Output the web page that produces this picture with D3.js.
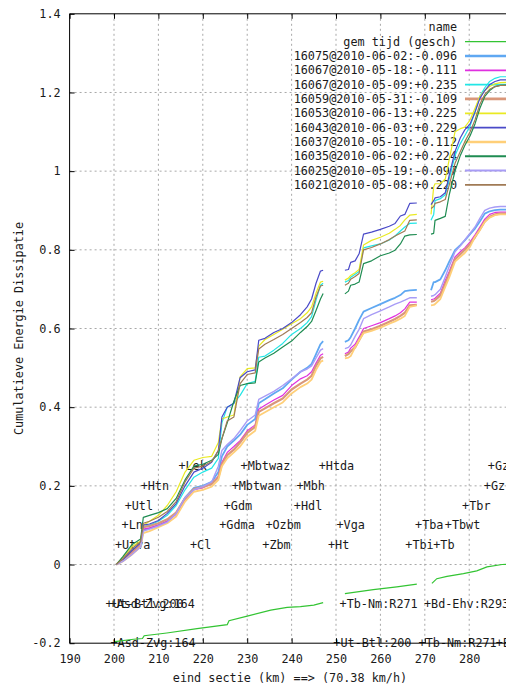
<!DOCTYPE html>
<html>
<head>
<meta charset="utf-8">
<script src="https://cdn.jsdelivr.net/npm/d3@7"></script>
<style>
  html, body { margin: 0; padding: 0; background: #fff; overflow: hidden; }
  svg { display: block; }
  text { font-family: "DejaVu Sans Mono", "Liberation Mono", monospace; font-size: 11.8px; fill: #1a1a1a; }
</style>
</head>
<body>
<svg id="chart" width="506" height="687"></svg>
<script>
// ---- kilometre grids of the three measured sections ----
const km1 = [200.5, 202, 204, 206, 206.6, 208, 210, 212, 214, 216, 218, 220, 222, 223.5, 224.3, 225.5, 227, 228.4, 230, 231.8, 232.6, 234, 236, 238, 240, 242, 243.5, 244.5, 245.5, 246.5, 247.1];
const km2 = [252.0, 252.8, 253.3, 254.3, 255.2, 256.2, 258, 260, 262, 263.3, 264.5, 265.5, 266.6, 268.2];
const km3 = [271.4, 272.0, 272.3, 273.5, 274.6, 275.5, 276.8, 278, 279, 280.2, 281.3, 282.4, 283.5, 284.6, 285.8, 287, 289.5];

// ---- cumulative energy dissipation per run (section 1, 2, 3) ----
const v16075a = [
  [0, 0.01, 0.03, 0.048, 0.088, 0.092, 0.1, 0.11, 0.13, 0.17, 0.195, 0.2, 0.21, 0.235, 0.275, 0.3, 0.315, 0.33, 0.355, 0.37, 0.41, 0.42, 0.435, 0.448, 0.47, 0.49, 0.5, 0.51, 0.535, 0.56, 0.568],
  [0.566, 0.57, 0.578, 0.6, 0.622, 0.643, 0.652, 0.662, 0.672, 0.678, 0.685, 0.695, 0.697, 0.698],
  [0.697, 0.718, 0.718, 0.725, 0.748, 0.77, 0.799, 0.812, 0.824, 0.84, 0.854, 0.872, 0.892, 0.898, 0.901, 0.902, 0.902]
];
const v16067b = [
  [0, 0.01, 0.028, 0.05, 0.09, 0.093, 0.1, 0.11, 0.128, 0.165, 0.19, 0.195, 0.205, 0.225, 0.26, 0.285, 0.3, 0.315, 0.34, 0.355, 0.395, 0.405, 0.418, 0.43, 0.455, 0.472, 0.48, 0.49, 0.512, 0.532, 0.536],
  [0.536, 0.54, 0.55, 0.56, 0.578, 0.6, 0.607, 0.615, 0.625, 0.632, 0.64, 0.65, 0.667, 0.667],
  [0.673, 0.675, 0.677, 0.69, 0.722, 0.745, 0.782, 0.795, 0.805, 0.82, 0.838, 0.858, 0.878, 0.89, 0.895, 0.896, 0.896]
];
const v16067c = [
  [0, 0.012, 0.035, 0.055, 0.095, 0.1, 0.11, 0.125, 0.15, 0.19, 0.222, 0.235, 0.245, 0.27, 0.36, 0.4, 0.41, 0.43, 0.46, 0.466, 0.527, 0.53, 0.545, 0.562, 0.585, 0.6, 0.615, 0.63, 0.672, 0.71, 0.715],
  [0.718, 0.722, 0.73, 0.738, 0.745, 0.805, 0.81, 0.815, 0.825, 0.835, 0.848, 0.858, 0.867, 0.868],
  [0.875, 0.89, 0.925, 0.93, 0.94, 0.98, 1.04, 1.07, 1.09, 1.115, 1.15, 1.19, 1.212, 1.228, 1.236, 1.24, 1.24]
];
const v16059 = [
  [0, 0.012, 0.032, 0.052, 0.095, 0.098, 0.105, 0.115, 0.132, 0.168, 0.192, 0.197, 0.205, 0.222, 0.255, 0.278, 0.292, 0.31, 0.335, 0.35, 0.388, 0.397, 0.41, 0.422, 0.445, 0.46, 0.47, 0.48, 0.505, 0.524, 0.528],
  [0.53, 0.535, 0.542, 0.552, 0.57, 0.592, 0.598, 0.607, 0.617, 0.624, 0.632, 0.64, 0.659, 0.66],
  [0.668, 0.67, 0.672, 0.684, 0.714, 0.738, 0.776, 0.789, 0.8, 0.815, 0.832, 0.852, 0.872, 0.884, 0.89, 0.892, 0.892]
];
const v16053 = [
  [0, 0.018, 0.045, 0.06, 0.1, 0.11, 0.125, 0.15, 0.185, 0.235, 0.265, 0.272, 0.275, 0.31, 0.37, 0.375, 0.38, 0.477, 0.498, 0.5, 0.555, 0.572, 0.585, 0.598, 0.612, 0.625, 0.64, 0.655, 0.69, 0.718, 0.72],
  [0.723, 0.728, 0.735, 0.742, 0.75, 0.812, 0.824, 0.832, 0.842, 0.852, 0.862, 0.876, 0.888, 0.89],
  [0.89, 0.96, 0.968, 0.968, 0.98, 1.03, 1.1, 1.108, 1.112, 1.13, 1.16, 1.19, 1.205, 1.215, 1.222, 1.225, 1.226]
];
const v16043 = [
  [0, 0.012, 0.035, 0.055, 0.1, 0.103, 0.112, 0.13, 0.155, 0.2, 0.235, 0.245, 0.26, 0.29, 0.375, 0.4, 0.41, 0.475, 0.49, 0.495, 0.57, 0.575, 0.59, 0.6, 0.615, 0.635, 0.655, 0.675, 0.715, 0.746, 0.748],
  [0.748, 0.75, 0.768, 0.772, 0.79, 0.84, 0.845, 0.852, 0.86, 0.867, 0.886, 0.89, 0.918, 0.919],
  [0.915, 0.925, 0.932, 0.935, 0.945, 0.99, 1.05, 1.085, 1.105, 1.12, 1.15, 1.185, 1.205, 1.22, 1.228, 1.232, 1.232]
];
const v16037 = [
  [0, 0.008, 0.025, 0.045, 0.08, 0.085, 0.095, 0.105, 0.122, 0.16, 0.185, 0.19, 0.198, 0.215, 0.25, 0.27, 0.285, 0.3, 0.325, 0.34, 0.378, 0.387, 0.4, 0.412, 0.435, 0.451, 0.46, 0.47, 0.495, 0.515, 0.519],
  [0.524, 0.526, 0.53, 0.552, 0.57, 0.588, 0.594, 0.602, 0.612, 0.618, 0.625, 0.632, 0.655, 0.659],
  [0.659, 0.66, 0.662, 0.675, 0.706, 0.73, 0.77, 0.782, 0.792, 0.808, 0.833, 0.85, 0.871, 0.882, 0.888, 0.89, 0.89]
];
const v16035 = [
  [0, 0.02, 0.05, 0.065, 0.12, 0.125, 0.132, 0.142, 0.168, 0.215, 0.25, 0.255, 0.265, 0.28, 0.32, 0.36, 0.415, 0.455, 0.46, 0.462, 0.515, 0.525, 0.537, 0.553, 0.568, 0.59, 0.605, 0.618, 0.646, 0.675, 0.689],
  [0.688, 0.695, 0.71, 0.713, 0.718, 0.765, 0.772, 0.785, 0.792, 0.799, 0.815, 0.835, 0.838, 0.839],
  [0.84, 0.842, 0.875, 0.88, 0.885, 0.94, 1.0, 1.04, 1.065, 1.09, 1.12, 1.16, 1.19, 1.205, 1.215, 1.218, 1.219]
];
const v16025 = [
  [0, 0.008, 0.025, 0.045, 0.085, 0.09, 0.098, 0.108, 0.13, 0.17, 0.19, 0.198, 0.21, 0.25, 0.29, 0.305, 0.32, 0.34, 0.365, 0.38, 0.42, 0.428, 0.44, 0.455, 0.472, 0.49, 0.497, 0.505, 0.525, 0.545, 0.549],
  [0.549, 0.552, 0.558, 0.58, 0.598, 0.625, 0.635, 0.645, 0.655, 0.662, 0.667, 0.672, 0.678, 0.678],
  [0.682, 0.684, 0.686, 0.7, 0.731, 0.758, 0.795, 0.81, 0.825, 0.842, 0.858, 0.88, 0.9, 0.906, 0.909, 0.91, 0.91]
];
const v16021 = [
  [0, 0.015, 0.04, 0.058, 0.105, 0.11, 0.12, 0.135, 0.16, 0.21, 0.245, 0.25, 0.262, 0.29, 0.32, 0.365, 0.375, 0.46, 0.483, 0.487, 0.548, 0.56, 0.572, 0.585, 0.6, 0.615, 0.628, 0.64, 0.68, 0.708, 0.71],
  [0.71, 0.715, 0.725, 0.732, 0.74, 0.8, 0.806, 0.815, 0.826, 0.835, 0.842, 0.848, 0.875, 0.876],
  [0.905, 0.91, 0.918, 0.922, 0.928, 0.965, 1.02, 1.05, 1.075, 1.1, 1.13, 1.17, 1.195, 1.208, 1.215, 1.218, 1.218]
];

// ---- average scheduled time line (gem tijd), its own km points per section ----
const gemKm = [
  [200.2, 204.4, 206.4, 206.8, 211.9, 218.7, 225.5, 225.9, 230, 235.3, 239, 242, 245, 247.1],
  [252, 258.4, 263.7, 268.2],
  [271.6, 272.7, 275, 278.7, 281.7, 284, 287.4, 289.5]
];
const gemVal = [
  [-0.196, -0.19, -0.188, -0.181, -0.174, -0.163, -0.153, -0.143, -0.131, -0.116, -0.109, -0.107, -0.103, -0.097],
  [-0.074, -0.064, -0.057, -0.05],
  [-0.048, -0.036, -0.03, -0.023, -0.016, -0.006, 0.0, 0.001]
];

// ---- legend / series styling ----
const seriesNames = [
  "16075@2010-06-02:-0.096", "16067@2010-05-18:-0.111", "16067@2010-05-09:+0.235",
  "16059@2010-05-31:-0.109", "16053@2010-06-13:+0.225", "16043@2010-06-03:+0.229",
  "16037@2010-05-10:-0.112", "16035@2010-06-02:+0.224", "16025@2010-05-19:-0.097",
  "16021@2010-05-08:+0.220"
];
const seriesValues = [v16075a, v16067b, v16067c, v16059, v16053, v16043, v16037, v16035, v16025, v16021];
const seriesColors = ["#5fa8f2", "#e030e0", "#22e6e6", "#d9977a", "#eaea22", "#4a4ac8", "#ffcf78", "#1f8c52", "#a89cf6", "#a07a55"];
const seriesWidths = [1.8, 1.2, 1.2, 2.2, 1.2, 1.2, 1.8, 1.2, 1.4, 1.2];
const gemName = "gem tijd (gesch)";
const gemColor = "#33c433";

// ---- station markers ----
const stationNames = ["Utva", "Ln", "Utl", "Htn", "Lek", "Cl", "Gdma", "Gdm", "Mbtwan", "Mbtwaz", "Zbm", "Ozbm", "Hdl", "Mbh", "Htda", "Ht", "Vga", "Tbi", "Tba", "Tb", "Tbwt", "Tbr", "Gz", "Gza"];
const stationKm = [201.0, 202.5, 203.2, 206.8, 215.3, 217.9, 224.5, 225.5, 227.3, 229.3, 234.2, 234.9, 241.3, 241.9, 246.9, 249.0, 250.9, 266.4, 268.6, 272.7, 275.3, 279.2, 284.1, 285.0];
const stationLevel = [0.05, 0.10, 0.15, 0.20, 0.25, 0.05, 0.10, 0.15, 0.20, 0.25, 0.05, 0.10, 0.15, 0.20, 0.25, 0.05, 0.10, 0.05, 0.10, 0.05, 0.10, 0.15, 0.20, 0.25];

// ---- route section markers ----
const routeNames = ["Ut-Btl:200", "Asd-Zvg:164", "Asd-Zvg:164", "Tb-Nm:R271", "Ut-Btl:200", "Bd-Ehv:R293", "Tb-Nm:R271", "Bd-Ehv:R293"];
const routeKm = [198.9, 199.8, 200.0, 251.6, 250.2, 270.6, 269.4, 286.8];
const routeLevel = [-0.1, -0.1, -0.2, -0.1, -0.2, -0.1, -0.2, -0.2];

// ---- axes ----
const xTicks = [190, 200, 210, 220, 230, 240, 250, 260, 270, 280];
const yTicks = [-0.2, 0, 0.2, 0.4, 0.6, 0.8, 1, 1.2, 1.4];
const yTickLabels = ["-0.2", "0", "0.2", "0.4", "0.6", "0.8", "1", "1.2", "1.4"];
const xTitle = "eind sectie (km) ==> (70.38 km/h)";
const yTitle = "Cumulatieve Energie Dissipatie";

const svg = d3.select("#chart");
const pL = 69.6, pR = 511.4, pT = 13.8, pB = 643.2;
const x = d3.scaleLinear().domain([190, 289.5]).range([pL, pR]);
const y = d3.scaleLinear().domain([-0.2, 1.4]).range([pB, pT]);

// grid
const grid = svg.append("g").attr("class", "grid");
grid.selectAll("line.gx").data(xTicks.slice(1)).join("line")
  .attr("x1", d => x(d)).attr("x2", d => x(d)).attr("y1", pT).attr("y2", pB)
  .attr("stroke", "#a8a8a8").attr("stroke-width", 1).attr("stroke-dasharray", "2,3");
grid.selectAll("line.gy").data(yTicks.slice(1, -1)).join("line")
  .attr("x1", pL).attr("x2", pR).attr("y1", d => y(d)).attr("y2", d => y(d))
  .attr("stroke", "#a8a8a8").attr("stroke-width", 1).attr("stroke-dasharray", "2,3");

// station labels
const plusOffset = 3.55;
svg.append("g").selectAll("text").data(stationNames).join("text")
  .attr("x", (d, i) => x(stationKm[i]) - plusOffset)
  .attr("y", (d, i) => y(stationLevel[i]))
  .attr("dy", "0.35em")
  .text(d => "+" + d);

// route labels
svg.append("g").selectAll("text").data(routeNames).join("text")
  .attr("x", (d, i) => x(routeKm[i]) - plusOffset)
  .attr("y", (d, i) => y(routeLevel[i]))
  .attr("dy", "0.35em")
  .text(d => "+" + d);

// legend text
const legX = 457, legY0 = 27.3, legStep = 14.33, sampleX1 = 465, sampleX2 = 512;
const legend = svg.append("g");
legend.append("text").attr("x", legX).attr("y", legY0).attr("dy", "0.35em")
  .attr("text-anchor", "end").text("name");
const legendLabels = [gemName].concat(seriesNames);
legend.selectAll("text.item").data(legendLabels).join("text")
  .attr("class", "item")
  .attr("x", legX).attr("y", (d, i) => legY0 + legStep * (i + 1)).attr("dy", "0.35em")
  .attr("text-anchor", "end").text(d => d);

// curves
const line = d3.line().x(d => x(d[0])).y(d => y(d[1]));
const plot = svg.append("g");
const kms = [km1, km2, km3];

// average time line
gemKm.forEach((kArr, s) => {
  plot.append("path")
    .attr("d", line(kArr.map((k, i) => [k, gemVal[s][i]])))
    .attr("fill", "none").attr("stroke", gemColor).attr("stroke-width", 1.2);
});
legend.append("line").attr("x1", sampleX1).attr("x2", sampleX2)
  .attr("y1", legY0 + legStep).attr("y2", legY0 + legStep)
  .attr("stroke", gemColor).attr("stroke-width", 1.4);

seriesValues.forEach((vals, n) => {
  vals.forEach((segVals, s) => {
    plot.append("path")
      .attr("d", line(kms[s].map((k, i) => [k, segVals[i]])))
      .attr("fill", "none")
      .attr("stroke", seriesColors[n])
      .attr("stroke-width", seriesWidths[n])
      .attr("stroke-linejoin", "round");
  });
  legend.append("line").attr("x1", sampleX1).attr("x2", sampleX2)
    .attr("y1", legY0 + legStep * (n + 2)).attr("y2", legY0 + legStep * (n + 2))
    .attr("stroke", seriesColors[n]).attr("stroke-width", seriesWidths[n] + 0.6);
});

// axes
const axB = svg.append("g").attr("transform", `translate(0,${pB})`)
  .call(d3.axisBottom(x).tickValues(xTicks).tickFormat(d3.format("d")).tickSize(-5).tickPadding(11));
const axT = svg.append("g").attr("transform", `translate(0,${pT})`)
  .call(d3.axisTop(x).tickValues(xTicks).tickFormat("").tickSize(-5));
const axL = svg.append("g").attr("transform", `translate(${pL},0)`)
  .call(d3.axisLeft(y).tickValues(yTicks).tickFormat((d, i) => yTickLabels[i]).tickSize(-5).tickPadding(9));
[axB, axT, axL].forEach(g => {
  g.select(".domain").attr("stroke", "#000").attr("stroke-width", 1);
  g.selectAll(".tick line").attr("stroke", "#000");
  g.selectAll("text").attr("font-family", "DejaVu Sans Mono").attr("font-size", "11.8px").attr("fill", "#1a1a1a");
});
axB.select(".domain").attr("d", `M${pL},0H${pR + 2}`);
axT.select(".domain").attr("d", `M${pL},0H${pR + 2}`);
axL.select(".domain").attr("d", `M0,${pT}V${pB}`);

// titles
svg.append("text").attr("x", 290).attr("y", 678).attr("dy", "0.35em")
  .attr("text-anchor", "middle").text(xTitle);
svg.append("text").attr("transform", `translate(19,${(pT + pB) / 2}) rotate(-90)`)
  .attr("dy", "0.35em").attr("text-anchor", "middle").text(yTitle);
</script>
</body>
</html>
